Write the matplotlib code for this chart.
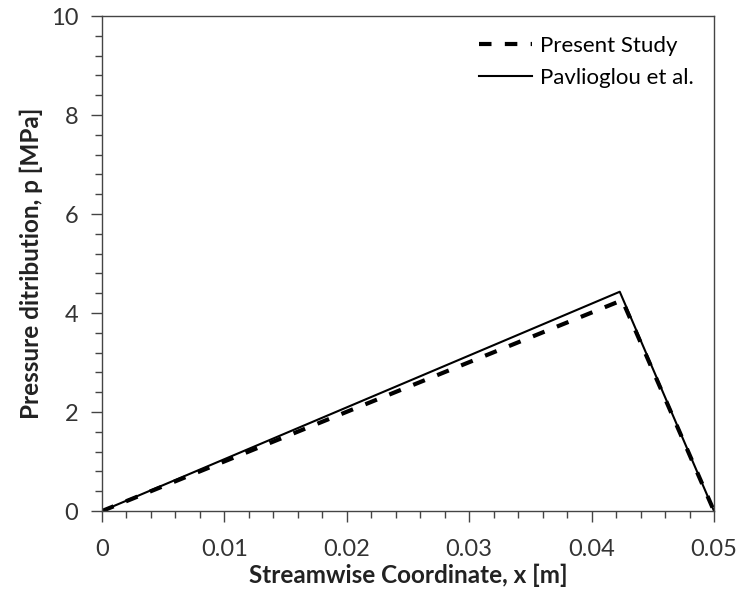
import matplotlib.pyplot as plt
from matplotlib.ticker import MultipleLocator

plt.rcParams["font.family"] = ["Lato", "DejaVu Sans"]

# streamwise coordinate [m] and pressure [MPa]
x_present = [0.0, 0.0425, 0.05]
p_present = [0.0, 4.26, 0.0]
x_pavlioglou = [0.0, 0.0423, 0.05]
p_pavlioglou = [0.0, 4.43, 0.0]

x_ticks = [0, 0.01, 0.02, 0.03, 0.04, 0.05]
x_tick_labels = ["0", "0.01", "0.02", "0.03", "0.04", "0.05"]

fig = plt.figure(figsize=(7.37, 5.94), dpi=100)
ax = fig.add_axes([0.1384, 0.1397, 0.8304, 0.8333])

ax.plot(x_present, p_present, color="black", lw=3.0, ls=(0, (3.0, 3.2)),
        label="Present Study")
ax.plot(x_pavlioglou, p_pavlioglou, color="black", lw=1.5,
        label="Pavlioglou et al.")

ax.set_xlim(0, 0.05)
ax.set_ylim(0, 10)
ax.set_xticks(x_ticks)
ax.set_xticklabels(x_tick_labels)
ax.xaxis.set_minor_locator(MultipleLocator(0.002))
ax.yaxis.set_major_locator(MultipleLocator(2))
ax.yaxis.set_minor_locator(MultipleLocator(0.4))
ax.tick_params(which="major", direction="out", length=8, width=1,
               labelsize=17, pad=9, colors="#444444", labelcolor="#333333")
ax.tick_params(axis="x", which="major", pad=12)
ax.tick_params(which="minor", direction="out", length=5, width=1,
               colors="#444444")
for s in ax.spines.values():
    s.set_color("#444444")
    s.set_linewidth(1)

ax.set_xlabel("Streamwise Coordinate, x [m]", fontsize=17.5, fontweight="bold",
              labelpad=3, color="#222222")
ax.set_ylabel("Pressure ditribution, p [MPa]", fontsize=17.5, fontweight="bold",
              labelpad=6, color="#222222")

ax.legend(loc="upper right", frameon=False, fontsize=16, handlelength=2.4,
          handletextpad=0.35, borderaxespad=0.5, labelspacing=0.55)

fig.savefig("out.png", dpi=100)
